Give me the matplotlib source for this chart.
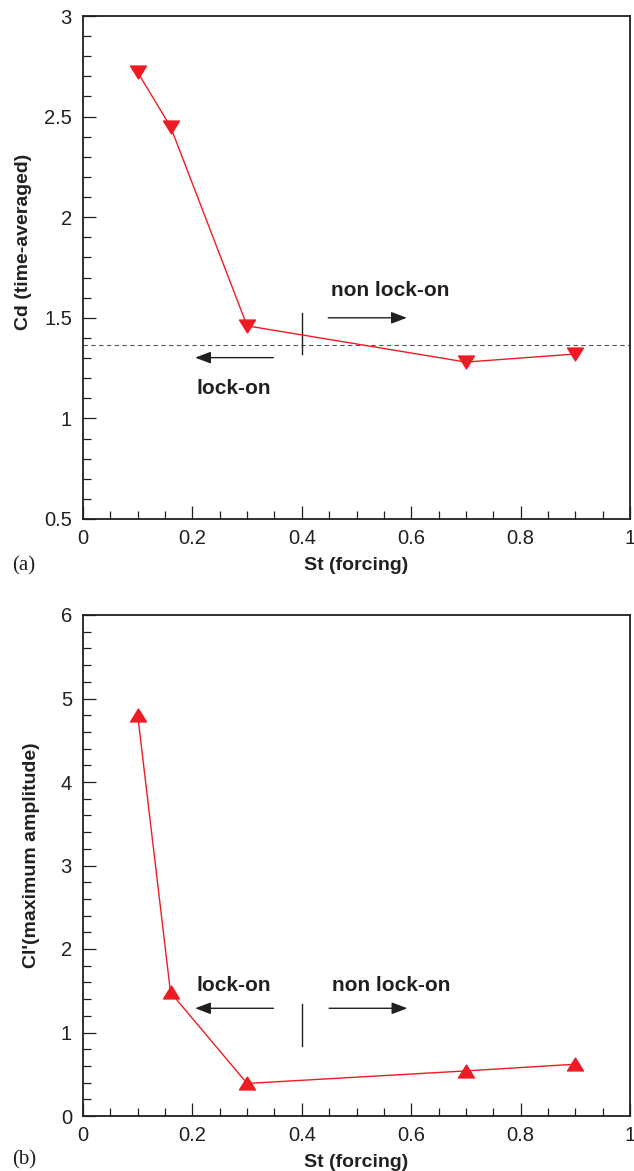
import matplotlib.pyplot as plt
import numpy as np
from matplotlib.ticker import MultipleLocator
from matplotlib.path import Path

plt.rcParams['font.family'] = ['Liberation Sans', 'DejaVu Sans']

# forcing Strouhal numbers
st = [0.1, 0.16, 0.3, 0.7, 0.9]
# time-averaged drag coefficient
cd_mean = [2.72, 2.45, 1.46, 1.28, 1.32]
cd_unforced = 1.365
# maximum lift amplitude
cl_max = [4.8, 1.48, 0.39, 0.54, 0.62]

red = '#ed1c24'
ink = '#231f20'

# flattened triangles like the original plotting package
tri_down = Path([(-0.62, 0.5), (0.62, 0.5), (0.0, -0.5), (-0.62, 0.5)],
                [Path.MOVETO, Path.LINETO, Path.LINETO, Path.CLOSEPOLY])
tri_up = Path([(-0.62, -0.5), (0.62, -0.5), (0.0, 0.5), (-0.62, -0.5)],
              [Path.MOVETO, Path.LINETO, Path.LINETO, Path.CLOSEPOLY])

fig = plt.figure(figsize=(6.34, 11.71), dpi=100)
W, H = 634, 1171
ax1 = fig.add_axes([83 / W, (H - 519) / H, 547 / W, 503 / H])
ax2 = fig.add_axes([83 / W, (H - 1116) / H, 547 / W, 501 / H])


def style(ax, ymin, ymax, ymajor, yminor):
    ax.set_xlim(0, 1)
    ax.set_ylim(ymin, ymax)
    ax.xaxis.set_major_locator(MultipleLocator(0.2))
    ax.xaxis.set_minor_locator(MultipleLocator(0.05))
    ax.yaxis.set_major_locator(MultipleLocator(ymajor))
    ax.yaxis.set_minor_locator(MultipleLocator(yminor))
    ax.xaxis.set_major_formatter(lambda v, p: '0' if v == 0 else ('1' if v == 1 else f'{v:g}'))
    ax.yaxis.set_major_formatter(lambda v, p: f'{v:g}')
    ax.tick_params(which='both', direction='in', top=False, right=False,
                   color=ink, width=0.9, labelsize=14.5, labelcolor=ink)
    ax.tick_params(which='major', length=9.4)
    ax.tick_params(which='minor', length=5.8)
    ax.tick_params(axis='x', pad=7.5)
    ax.tick_params(axis='y', pad=8)
    for s in ax.spines.values():
        s.set_linewidth(1.3)
        s.set_color(ink)
    ax.set_xlabel('St (forcing)', fontsize=14, fontweight='bold', color=ink, labelpad=6)


def arrow(ax, x0, x1, y):
    ax.annotate('', xy=(x1, y), xytext=(x0, y),
                arrowprops=dict(arrowstyle='-|>,head_length=0.95,head_width=0.36',
                                lw=1.0, color=ink, shrinkA=0, shrinkB=0))


# (a) drag
style(ax1, 0.5, 3, 0.5, 0.1)
ax1.axhline(cd_unforced, color='#555555', lw=0.8, dashes=(4, 3))
ax1.plot(st, cd_mean, color=red, lw=1.0, marker=tri_down, ms=11.5,
         mfc=red, mec=red, zorder=3)
ax1.plot([0.4, 0.4], [1.318, 1.522], color=ink, lw=1.0)
arrow(ax1, 0.4485, 0.592, 1.50)
arrow(ax1, 0.348, 0.205, 1.302)
ax1.text(0.453, 1.635, 'non lock-on', fontsize=15, fontweight='bold', color=ink,
         ha='left', va='center')
ax1.text(0.208, 1.15, 'lock-on', fontsize=15, fontweight='bold', color=ink,
         ha='left', va='center')
ax1.text(-0.108, 0.55, 'Cd (time-averaged)', transform=ax1.transAxes, rotation=90,
         fontsize=14, fontweight='bold', color=ink, ha='center', va='center')

# (b) lift
style(ax2, 0, 6, 1, 0.2)
ax2.plot(st, cl_max, color=red, lw=1.0, marker=tri_up, ms=11.5,
         mfc=red, mec=red, zorder=3)
ax2.plot([0.4, 0.4], [0.842, 1.338], color=ink, lw=1.0)
arrow(ax2, 0.45, 0.593, 1.29)
arrow(ax2, 0.348, 0.205, 1.29)
ax2.text(0.455, 1.56, 'non lock-on', fontsize=15, fontweight='bold', color=ink,
         ha='left', va='center')
ax2.text(0.208, 1.56, 'lock-on', fontsize=15, fontweight='bold', color=ink,
         ha='left', va='center')
ax2.text(-0.095, 0.52, "Cl'(maximum amplitude)", transform=ax2.transAxes, rotation=90,
         fontsize=14, fontweight='bold', color=ink, ha='center', va='center')

fig.text(12 / W, 1 - 566 / H, '(a)', family='Liberation Serif', fontsize=15,
         color=ink, ha='left', va='center')
fig.text(12 / W, 1 - 1160 / H, '(b)', family='Liberation Serif', fontsize=15,
         color=ink, ha='left', va='center')

fig.savefig('out.png', dpi=100)
